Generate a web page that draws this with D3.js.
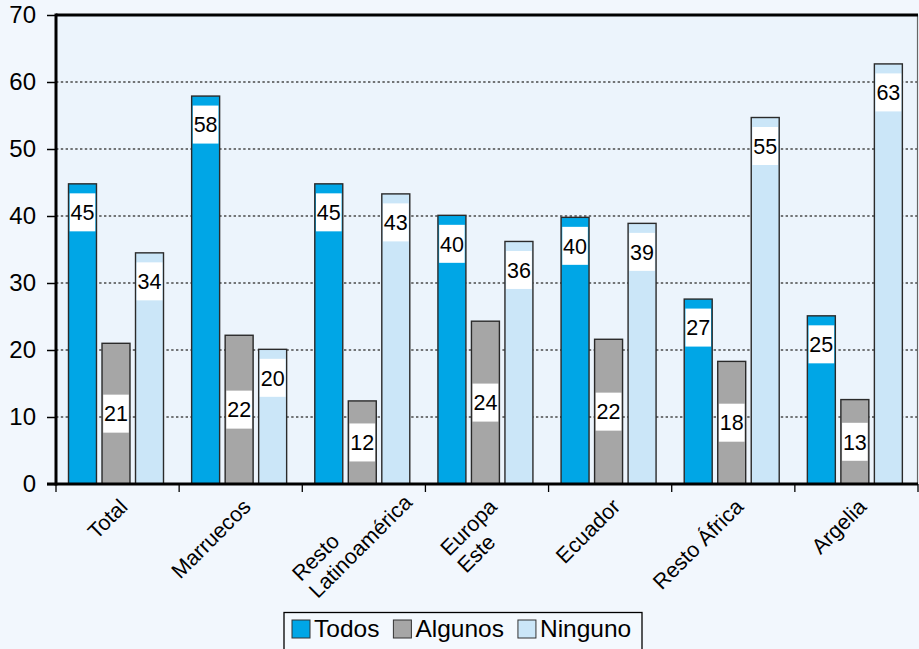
<!DOCTYPE html>
<html>
<head>
<meta charset="utf-8">
<script src="https://cdn.jsdelivr.net/npm/d3@7"></script>
<style>
	html, body { margin: 0; padding: 0; background: #f2f7fd; }
	svg { display: block; font-family: "Liberation Sans", Arial, Helvetica, sans-serif; }
</style>
</head>
<body>
<div id="chart"></div>
<script>
const categories = ["Total", "Marruecos", "Resto\nLatinoamérica", "Europa\nEste", "Ecuador", "Resto África", "Argelia"];
const series = ["Todos", "Algunos", "Ninguno"];

const todos = [44.8, 57.9, 44.8, 40.1, 39.8, 27.6, 25.1];
const algunos = [21.0, 22.2, 12.4, 24.3, 21.6, 18.3, 12.6];
const ninguno = [34.5, 20.1, 43.3, 36.2, 38.9, 54.7, 62.7];

// labels as printed on the bars
const todosLabels = [45, 58, 45, 40, 40, 27, 25];
const algunosLabels = [21, 22, 12, 24, 22, 18, 13];
const ningunoLabels = [34, 20, 43, 36, 39, 55, 63];

const yTicks = [0, 10, 20, 30, 40, 50, 60, 70];

const colors = { Todos: "#00a6e6", Algunos: "#a6a6a6", Ninguno: "#cbe6f8" };

const width = 919;
const height = 649;
const margin = { left: 56, right: 1, top: 15, bottom: 165 };

const values = { Todos: todos, Algunos: algunos, Ninguno: ninguno };
const labels = { Todos: todosLabels, Algunos: algunosLabels, Ninguno: ningunoLabels };

const rows = categories.map((c, i) => ({
	category: c,
	bars: series.map((s) => ({ key: s, value: values[s][i], label: labels[s][i] })),
}));

const svg = d3
	.select("#chart")
	.append("svg")
	.attr("width", width)
	.attr("height", height)
	.attr("viewBox", `0 0 ${width} ${height}`);

svg.append("rect").attr("width", width).attr("height", height).attr("fill", "#f2f7fd");

const x0 = d3
	.scaleBand()
	.domain(categories)
	.range([margin.left, width - margin.right])
	.padding(0);

const x1 = d3
	.scaleBand()
	.domain(series)
	.range([12.5, 107.5])
	.paddingInner(0.165)
	.paddingOuter(0);

const y = d3
	.scaleLinear()
	.domain([0, 70])
	.range([height - margin.bottom, margin.top]);

const plotLeft = margin.left;
const plotRight = width - margin.right;
const plotBottom = y(0);

// plot background
svg
	.append("rect")
	.attr("x", plotLeft)
	.attr("y", y(70))
	.attr("width", plotRight - plotLeft)
	.attr("height", plotBottom - y(70))
	.attr("fill", "#ecf4fc");

// grid lines
svg
	.append("g")
	.attr("class", "grid")
	.selectAll("line")
	.data(yTicks.filter((t) => t > 0 && t < 70))
	.join("line")
	.attr("x1", plotLeft)
	.attr("x2", plotRight)
	.attr("y1", (d) => y(d))
	.attr("y2", (d) => y(d))
	.attr("stroke", "#4a4a4a")
	.attr("stroke-width", 1.3)
	.attr("stroke-dasharray", "2.4,2.4");

// y axis
const yAxis = svg
	.append("g")
	.attr("class", "y-axis")
	.attr("transform", `translate(${plotLeft}, 0)`)
	.call(d3.axisLeft(y).tickValues(yTicks).tickSize(9).tickPadding(11));

yAxis.select(".domain").remove();
yAxis.selectAll(".tick line").attr("stroke", "#000").attr("stroke-width", 1.5);
yAxis
	.selectAll(".tick text")
	.attr("fill", "#000")
	.attr("font-size", 24)
	.attr("font-family", "Liberation Sans, Arial, sans-serif");

// bars
const groups = svg
	.append("g")
	.attr("class", "bars")
	.selectAll("g")
	.data(rows)
	.join("g")
	.attr("transform", (d) => `translate(${x0(d.category)}, 0)`);

groups
	.selectAll("rect.bar")
	.data((d) => d.bars)
	.join("rect")
	.attr("class", "bar")
	.attr("x", (d) => x1(d.key))
	.attr("y", (d) => y(d.value))
	.attr("width", x1.bandwidth())
	.attr("height", (d) => plotBottom - y(d.value))
	.attr("fill", (d) => colors[d.key])
	.attr("stroke", "#2a2a2a")
	.attr("stroke-width", 1.4);

// value labels: white boxes, top for Todos/Ninguno, middle for Algunos
const boxH = 38;
const labelTop = (d) =>
	d.key === "Algunos"
		? (y(d.value) + plotBottom) / 2 - boxH / 2
		: y(d.value) + 9.5;

const lab = groups
	.selectAll("g.lab")
	.data((d) => d.bars)
	.join("g")
	.attr("class", "lab");

lab
	.append("rect")
	.attr("x", (d) => x1(d.key) + 1.2)
	.attr("y", labelTop)
	.attr("width", x1.bandwidth() - 2.4)
	.attr("height", boxH)
	.attr("fill", "#fff");

lab
	.append("text")
	.attr("x", (d) => x1(d.key) + x1.bandwidth() / 2)
	.attr("y", (d) => labelTop(d) + boxH / 2)
	.attr("dy", "0.36em")
	.attr("text-anchor", "middle")
	.attr("font-size", 21.5)
	.attr("fill", "#000")
	.text((d) => d.label);

// frame: thick left/bottom axis and top border, thin right border
const frame = svg.append("g").attr("class", "frame");
frame
	.append("line")
	.attr("x1", plotRight - 0.5)
	.attr("x2", plotRight - 0.5)
	.attr("y1", y(70))
	.attr("y2", plotBottom)
	.attr("stroke", "#666")
	.attr("stroke-width", 1.2);
frame
	.append("line")
	.attr("x1", plotLeft)
	.attr("x2", plotRight)
	.attr("y1", y(70))
	.attr("y2", y(70))
	.attr("stroke", "#000")
	.attr("stroke-width", 3);
frame
	.append("line")
	.attr("x1", plotLeft)
	.attr("x2", plotLeft)
	.attr("y1", y(70) - 1.5)
	.attr("y2", plotBottom + 1.5)
	.attr("stroke", "#000")
	.attr("stroke-width", 3);
frame
	.append("line")
	.attr("x1", plotLeft - 9)
	.attr("x2", plotRight)
	.attr("y1", plotBottom)
	.attr("y2", plotBottom)
	.attr("stroke", "#000")
	.attr("stroke-width", 3);

// x ticks at category boundaries
const bounds = categories.map((c) => x0(c)).concat([plotRight]);
frame
	.selectAll("line.xtick")
	.data(bounds)
	.join("line")
	.attr("class", "xtick")
	.attr("x1", (d) => d)
	.attr("x2", (d) => d)
	.attr("y1", plotBottom)
	.attr("y2", plotBottom + 8)
	.attr("stroke", "#000")
	.attr("stroke-width", 1.3);

// rotated category labels, lines left aligned
const xLab = svg.append("g").attr("class", "x-labels").attr("font-size", 21.5);
const lineStep = 24;

categories.forEach((c) => {
	const lines = c.split("\n");
	const cx = x0(c) + x0.bandwidth() / 2;
	const g = xLab
		.append("g")
		.attr("transform", `translate(${cx}, ${plotBottom}) rotate(-45)`);
	const texts = g
		.selectAll("text")
		.data(lines)
		.join("text")
		.attr("y", (d, i) => 25 + i * lineStep)
		.attr("fill", "#000")
		.text((d) => d);
	const widths = [];
	texts.each(function () {
		widths.push(this.getComputedTextLength());
	});
	const longest = d3.maxIndex(widths);
	const end = -9 + 30 * longest;
	const start = end - widths[longest];
	texts.attr("x", start);
});

// legend
const legend = svg.append("g").attr("class", "legend");
legend
	.append("rect")
	.attr("x", 284)
	.attr("y", 612.5)
	.attr("width", 358)
	.attr("height", 60)
	.attr("fill", "#f4f9fe")
	.attr("stroke", "#000")
	.attr("stroke-width", 1.3);

let lx = 292;
series.forEach((s) => {
	legend
		.append("rect")
		.attr("x", lx)
		.attr("y", 620)
		.attr("width", 18)
		.attr("height", 18)
		.attr("fill", colors[s])
		.attr("stroke", "#333")
		.attr("stroke-width", 1);
	const t = legend
		.append("text")
		.attr("x", lx + 22)
		.attr("y", 637)
		.attr("font-size", 24.5)
		.attr("fill", "#000")
		.text(s);
	lx += 22 + t.node().getComputedTextLength() + 14;
});
</script>
</body>
</html>
